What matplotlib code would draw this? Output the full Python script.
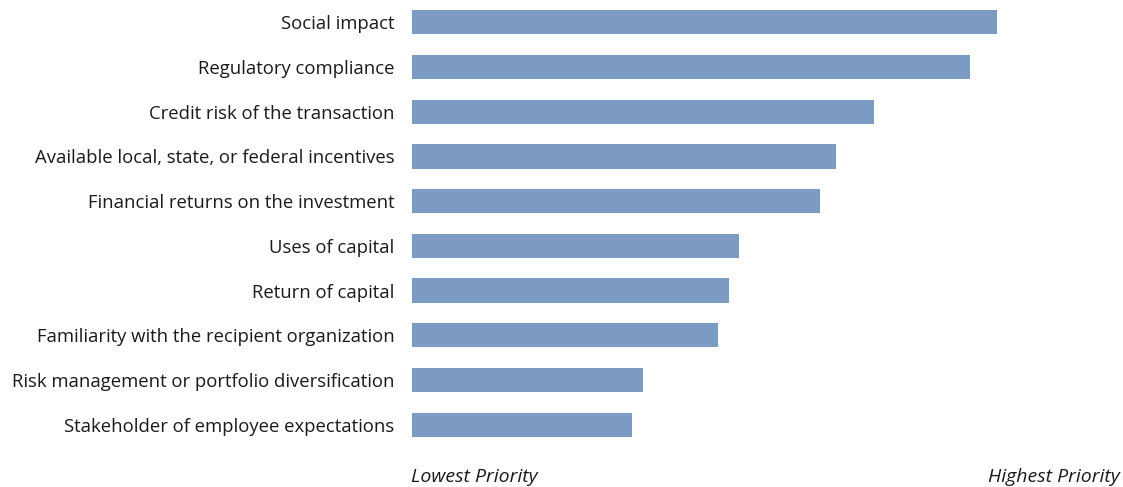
import numpy as np
import matplotlib.pyplot as plt

plt.rcParams['font.family'] = ['Open Sans', 'DejaVu Sans']

factors = [
    'Social impact',
    'Regulatory compliance',
    'Credit risk of the transaction',
    'Available local, state, or federal incentives',
    'Financial returns on the investment',
    'Uses of capital',
    'Return of capital',
    'Familiarity with the recipient organization',
    'Risk management or portfolio diversification',
    'Stakeholder of employee expectations',
]
# priority score, 0 = lowest, 100 = highest
scores = [82.6, 78.8, 65.3, 59.9, 57.6, 46.2, 44.8, 43.2, 32.6, 31.1]

fig = plt.figure(figsize=(11.23, 4.87), dpi=100)
ax = fig.add_axes([412 / 1123, 40 / 487, 708 / 1123, 447 / 487])

y = np.arange(len(factors))
ax.barh(y, scores, height=0.54, color='#7b9bc2')

ax.set_xlim(0, 100)
ax.set_ylim(len(factors) - 0.5, -0.5)
ax.set_yticks(y)
ax.set_yticklabels(factors, fontsize=13.3, color='#1a1a1a')
ax.tick_params(axis='y', length=0, pad=12.7)
ax.set_xticks([])
for s in ax.spines.values():
    s.set_visible(False)

fig.text(411 / 1123, 10 / 487, 'Lowest Priority', fontsize=14, style='italic',
         ha='left', va='center', color='#1a1a1a')
fig.text(1120 / 1123, 10 / 487, 'Highest Priority', fontsize=14, style='italic',
         ha='right', va='center', color='#1a1a1a')

fig.savefig('out.png', dpi=100)
